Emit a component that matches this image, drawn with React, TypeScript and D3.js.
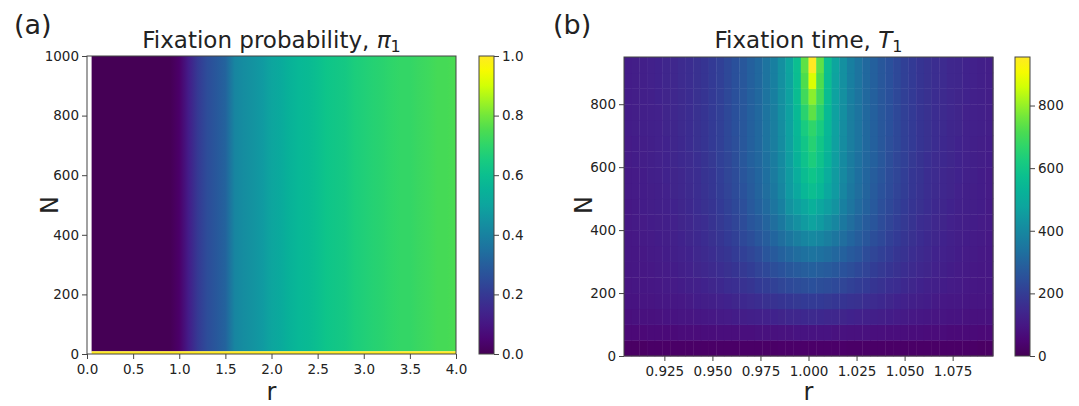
import { useEffect, useRef } from "react"
import * as d3 from "d3"

// ---- panel (a): fixation probability, one value per r (same for every N > 1)
const probR = [
  0.05, 0.1, 0.2, 0.3, 0.4, 0.5, 0.6, 0.7, 0.8, 0.9, 1.0, 1.1, 1.2, 1.3, 1.4, 1.5,
  1.6, 1.7, 1.8, 1.9, 2.0, 2.1, 2.2, 2.3, 2.4, 2.5, 2.6, 2.7, 2.8, 2.9, 3.0, 3.1,
  3.2, 3.3, 3.4, 3.5, 3.6, 3.7, 3.8, 3.9, 4.0,
]
const probPi = [
  0, 0, 0, 0, 0, 0, 0, 0, 0, 0, 0.03, 0.12, 0.2, 0.25, 0.28, 0.31,
  0.41, 0.43, 0.45, 0.47, 0.5, 0.52, 0.55, 0.57, 0.58, 0.6, 0.62, 0.63, 0.64, 0.66, 0.67, 0.68,
  0.69, 0.7, 0.71, 0.71, 0.72, 0.73, 0.74, 0.74, 0.75,
]
const probSingleRow = [0, 9] // N = 1 row, always fixes
const probSingleValue = 1
const probTicksX = [0, 0.5, 1, 1.5, 2, 2.5, 3, 3.5, 4]
const probTicksY = [0, 200, 400, 600, 800, 1000]
const probCbarTicks = [0, 0.2, 0.4, 0.6, 0.8, 1.0]

// ---- panel (b): fixation time, rows of N (bottom edge, 50 wide), 48 columns of r
const timeRStart = 0.904
const timeRStep = 0.004
const timeNRows = [0, 50, 100, 150, 200, 250, 300, 350, 400, 450, 500, 550, 600, 650, 700, 750, 800, 850, 900]
const timeRowHeight = 50
const timeValues = [
  [22,22,22,23,23,23,23,23,24,24,24,24,25,25,25,25,26,26,26,26,27,27,27,28,28,28,27,27,27,26,26,26,26,25,25,25,25,24,24,24,24,23,23,23,23,23,22,22],
  [58,59,59,60,61,62,63,64,65,67,68,69,71,72,74,76,77,79,80,82,83,85,86,87,88,87,86,85,83,82,80,79,77,76,74,72,71,69,68,67,65,64,63,62,61,60,59,59],
  [78,79,81,82,84,86,88,90,92,95,98,101,105,109,113,117,121,126,130,134,138,142,145,148,150,148,145,142,138,134,130,126,121,117,113,109,105,101,98,95,92,90,88,86,84,82,81,79],
  [86,88,90,92,94,97,100,104,108,112,116,122,128,134,140,147,154,161,168,175,182,188,193,197,200,197,193,188,182,175,168,161,154,147,140,134,128,122,116,112,108,104,100,97,94,92,90,88],
  [92,94,96,99,102,106,110,115,120,126,132,140,148,157,166,175,185,195,205,215,225,233,240,246,250,246,240,233,225,215,205,195,185,175,166,157,148,140,132,126,120,115,110,106,102,99,96,94],
  [95,97,100,104,107,111,115,121,128,135,142,151,161,171,182,193,205,217,230,243,256,268,278,285,290,285,278,268,256,243,230,217,205,193,182,171,161,151,142,135,128,121,115,111,107,104,100,97],
  [97,100,103,107,111,115,120,127,134,142,150,161,172,185,198,212,226,242,258,275,292,308,322,333,340,333,322,308,292,275,258,242,226,212,198,185,172,161,150,142,134,127,120,115,111,107,103,100],
  [100,103,106,110,114,119,125,132,140,149,158,170,183,197,212,228,245,263,283,305,328,350,370,388,400,388,370,350,328,305,283,263,245,228,212,197,183,170,158,149,140,132,125,119,114,110,106,103],
  [102,105,109,113,118,123,129,136,144,153,163,176,191,206,222,239,258,278,300,327,355,395,425,455,475,455,425,395,355,327,300,278,258,239,222,206,191,176,163,153,144,136,129,123,118,113,109,105],
  [104,108,112,116,121,126,132,140,148,157,168,182,197,213,230,249,270,291,315,346,380,430,460,490,515,490,460,430,380,346,315,291,270,249,230,213,197,182,168,157,148,140,132,126,121,116,112,108],
  [106,110,114,118,123,129,135,142,151,161,172,187,203,220,238,256,278,300,325,358,395,450,495,540,570,540,495,450,395,358,325,300,278,256,238,220,203,187,172,161,151,142,135,129,123,118,114,110],
  [107,111,115,120,125,131,137,145,154,164,176,190,206,224,242,261,283,304,330,362,400,455,510,560,590,560,510,455,400,362,330,304,283,261,242,224,206,190,176,164,154,145,137,131,125,120,115,111],
  [109,113,117,122,127,133,139,147,156,166,178,193,209,227,246,265,288,309,335,366,405,460,525,585,630,585,525,460,405,366,335,309,288,265,246,227,209,193,178,166,156,147,139,133,127,122,117,113],
  [110,114,118,123,128,134,140,149,158,168,180,194,211,229,248,267,290,312,340,370,410,465,535,600,650,600,535,465,410,370,340,312,290,267,248,229,211,194,180,168,158,149,140,134,128,123,118,114],
  [112,116,120,124,129,135,141,150,159,169,180,195,212,230,250,268,290,312,340,372,413,468,540,620,670,620,540,468,413,372,340,312,290,268,250,230,212,195,180,169,159,150,141,135,129,124,120,116],
  [113,117,121,125,130,136,142,150,160,170,180,195,212,230,250,268,290,312,340,373,415,470,550,660,740,660,550,470,415,373,340,312,290,268,250,230,212,195,180,170,160,150,142,136,130,125,121,117],
  [114,118,122,126,131,137,143,151,160,170,180,195,212,230,250,268,290,312,340,374,418,472,560,700,790,700,560,472,418,374,340,312,290,268,250,230,212,195,180,170,160,151,143,137,131,126,122,118],
  [115,119,123,128,133,139,145,153,161,170,180,195,212,230,250,268,290,312,340,375,420,475,565,720,870,720,565,475,420,375,340,312,290,268,250,230,212,195,180,170,161,153,145,139,133,128,123,119],
  [115,119,123,128,133,139,145,153,161,170,180,195,212,230,250,268,290,312,340,375,420,478,570,740,955,740,570,478,420,375,340,312,290,268,250,230,212,195,180,170,161,153,145,139,133,128,123,119],
]
const timeTicksX = [0.925, 0.95, 0.975, 1.0, 1.025, 1.05, 1.075]
const timeTicksY = [0, 200, 400, 600, 800]
const timeCbarTicks = [0, 200, 400, 600, 800]

const FONT = "DejaVu Sans"
const INK = "#222"
const SPINE = "#444"
const TICK_FS = "13.5px"

// the reference image is a bit more saturated than plain viridis
const viridis = (t: number) => {
  const c = d3.hsl(d3.interpolateViridis(Math.max(0, Math.min(1, t))))
  c.s = Math.min(1, c.s * 1.35)
  return c.formatHex()
}

function frame(g: any, x0: number, x1: number, y0: number, y1: number) {
  g.append("rect")
    .attr("x", x0)
    .attr("y", y0)
    .attr("width", x1 - x0)
    .attr("height", y1 - y0)
    .attr("fill", "none")
    .attr("stroke", SPINE)
    .attr("stroke-width", 1)
}

function styleAxis(a: any) {
  a.select(".domain").remove()
  a.selectAll("line").attr("stroke", SPINE)
  a.selectAll("text").attr("fill", INK).style("font-size", TICK_FS).style("font-family", FONT)
}

function colorbar(svg: any, id: string, x0: number, x1: number, y0: number, y1: number, max: number, ticks: number[], fmt: (v: number) => string) {
  const grad = svg.append("defs").append("linearGradient")
    .attr("id", id).attr("x1", 0).attr("x2", 0).attr("y1", 1).attr("y2", 0)
  d3.range(0, 1.0001, 0.05).forEach((t) => {
    grad.append("stop").attr("offset", t).attr("stop-color", viridis(t))
  })
  svg.append("rect").attr("x", x0).attr("y", y0).attr("width", x1 - x0).attr("height", y1 - y0)
    .attr("fill", `url(#${id})`)
  const y = d3.scaleLinear().domain([0, max]).range([y1, y0])
  const ax = svg.append("g").attr("transform", `translate(${x1},0)`)
    .call(d3.axisRight(y).tickValues(ticks).tickSize(5).tickPadding(3).tickFormat(fmt as any))
  styleAxis(ax)
  frame(svg, x0, x1, y0, y1)
}

function title(svg: any, cx: number, main: string, sym: string) {
  const t = svg.append("text").attr("x", cx).attr("y", 48).attr("text-anchor", "middle")
    .attr("fill", INK).style("font-family", FONT).style("font-size", "23px")
  t.append("tspan").text(main)
  t.append("tspan").attr("font-style", "italic").text(sym)
  t.append("tspan").attr("dy", 4).style("font-size", "16px").text("1")
}

function labels(svg: any, letter: string, lx: number, cx: number, nx: number, cy: number) {
  svg.append("text").attr("x", lx).attr("y", 34).attr("fill", INK)
    .style("font-family", FONT).style("font-size", "27px").text(letter)
  svg.append("text").attr("x", cx).attr("y", 400).attr("text-anchor", "middle").attr("fill", INK)
    .style("font-family", FONT).style("font-size", "24px").text("r")
  svg.append("text").attr("transform", `translate(${nx},${cy}) rotate(-90)`).attr("text-anchor", "middle")
    .attr("fill", INK).style("font-family", FONT).style("font-size", "24px").text("N")
}

function drawProbability(svg: any) {
  const x = d3.scaleLinear().domain([0, 4]).range([87, 456])
  const y = d3.scaleLinear().domain([0, 1000]).range([354, 56])
  const g = svg.append("g")

  const gx0 = x(probR[0])
  const gx1 = x(probR[probR.length - 1])
  const grad = svg.append("defs").append("linearGradient")
    .attr("id", "probGrad").attr("gradientUnits", "userSpaceOnUse")
    .attr("x1", gx0).attr("x2", gx1).attr("y1", 0).attr("y2", 0)
  probR.forEach((r, i) => {
    grad.append("stop").attr("offset", (x(r) - gx0) / (gx1 - gx0)).attr("stop-color", viridis(probPi[i]))
  })
  g.append("rect").attr("x", gx0).attr("y", y(1000)).attr("width", gx1 - gx0)
    .attr("height", y(probSingleRow[1]) - y(1000)).attr("fill", "url(#probGrad)")
  g.append("rect").attr("x", gx0).attr("y", y(probSingleRow[1])).attr("width", gx1 - gx0)
    .attr("height", y(probSingleRow[0]) - y(probSingleRow[1])).attr("fill", viridis(probSingleValue))

  const ax = svg.append("g").attr("transform", "translate(0,354)")
    .call(d3.axisBottom(x).tickValues(probTicksX).tickSize(5).tickPadding(5).tickFormat(d3.format(".1f") as any))
  styleAxis(ax)
  const ay = svg.append("g").attr("transform", "translate(87,0)")
    .call(d3.axisLeft(y).tickValues(probTicksY).tickSize(5).tickPadding(3).tickFormat(d3.format("d") as any))
  styleAxis(ay)
  frame(svg, 87, 456, 56, 354)

  colorbar(svg, "cbA", 479, 494, 56, 354, 1, probCbarTicks, d3.format(".1f"))
  title(svg, 271.5, "Fixation probability, ", "π")
  labels(svg, "(a)", 14, 271.5, 58, 205)
}

function drawTime(svg: any) {
  const nCols = timeValues[0].length
  const rEnd = timeRStart + timeRStep * nCols
  const x = d3.scaleLinear().domain([timeRStart, rEnd]).range([624, 993])
  const y = d3.scaleLinear().domain([0, 950]).range([356, 57])
  const vmax = d3.max(timeValues.flat()) as number
  const g = svg.append("g")

  timeValues.forEach((row, i) => {
    const n0 = timeNRows[i]
    row.forEach((v, j) => {
      const r0 = timeRStart + timeRStep * j
      g.append("rect")
        .attr("x", x(r0))
        .attr("y", y(n0 + timeRowHeight))
        .attr("width", x(r0 + timeRStep) - x(r0) + 0.4)
        .attr("height", y(n0) - y(n0 + timeRowHeight) + 0.4)
        .attr("fill", viridis(v / vmax))
    })
  })

  const ax = svg.append("g").attr("transform", "translate(0,356)")
    .call(d3.axisBottom(x).tickValues(timeTicksX).tickSize(5).tickPadding(5).tickFormat(d3.format(".3f") as any))
  styleAxis(ax)
  const ay = svg.append("g").attr("transform", "translate(624,0)")
    .call(d3.axisLeft(y).tickValues(timeTicksY).tickSize(5).tickPadding(3).tickFormat(d3.format("d") as any))
  styleAxis(ay)
  frame(svg, 624, 993, 57, 356)

  colorbar(svg, "cbB", 1015, 1030, 57, 356, vmax, timeCbarTicks, d3.format("d"))
  title(svg, 808.5, "Fixation time, ", "T")
  labels(svg, "(b)", 553, 808.5, 592, 205)
}

export default function App() {
  const ref = useRef<SVGSVGElement>(null)

  useEffect(() => {
    const svg = d3.select(ref.current)
    svg.selectAll("*").remove()
    svg.append("rect").attr("width", 1079).attr("height", 406).attr("fill", "#fff")
    drawProbability(svg)
    drawTime(svg)
  }, [])

  return (
    <svg
      ref={ref}
      width={1079}
      height={406}
      style={{ position: "absolute", left: 0, top: 0, fontFamily: FONT }}
    />
  )
}
